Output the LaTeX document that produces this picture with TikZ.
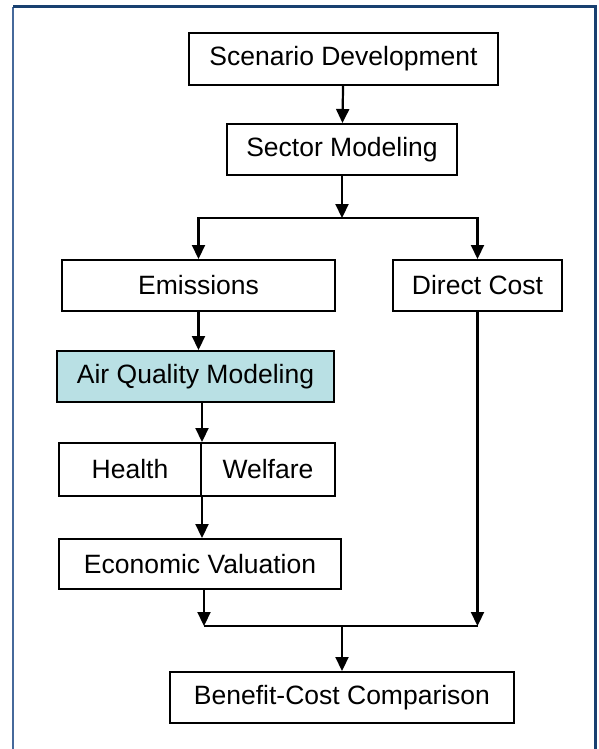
\documentclass[tikz,border=0pt]{standalone}
\usepackage{fontspec}
\setmainfont{Liberation Sans}
\usetikzlibrary{arrows.meta}

\definecolor{frameblue}{RGB}{24,64,112}
\definecolor{frameleft}{RGB}{70,105,155}
\definecolor{aqfill}{RGB}{185,224,228}

\begin{document}
\begin{tikzpicture}[x=1pt,y=-1pt,
	box/.style={draw,line width=2pt,fill=white,inner sep=0pt,
		font=\fontsize{26.5}{30}\selectfont},
	arr/.style={line width=2.2pt,-{Triangle[length=14pt,width=13pt]}},
	link/.style={line width=2.2pt}]
	\useasboundingbox (0,0) rectangle (598,749);
	% frame
	\draw[frameleft,line width=2pt] (13,749) -- (13,7);
	\draw[frameblue,line width=3pt] (13,7) -- (595,7) -- (595,749);
	
	% boxes
	\node[box,minimum width=309,minimum height=52] (scen) at (343.5,59) {Scenario Development};
	\node[box,minimum width=230,minimum height=51] (sect) at (342,149.5) {Sector Modeling};
	\node[box,minimum width=273,minimum height=51] (emis) at (198.5,285.5) {Emissions};
	\node[box,minimum width=169,minimum height=51] (cost) at (477.5,285.5) {Direct Cost};
	\node[box,fill=aqfill,minimum width=277,minimum height=51] (aqm) at (195.5,376.5) {Air Quality Modeling};
	\node[box,minimum width=142,minimum height=53] (health) at (130,469.5) {Health};
	\node[box,minimum width=134,minimum height=53] (welf) at (268,469.5) {Welfare};
	\node[box,minimum width=282,minimum height=50] (econ) at (200,564) {Economic Valuation};
	\node[box,minimum width=344,minimum height=51] (bcc) at (342,697.5) {Benefit-Cost Comparison};
	
	\coordinate (split) at (342,218);
	\coordinate (join) at (342,626);
	
	% arrows
	\draw[arr] (scen) -- (sect);
	\draw[arr] (sect) -- (split);
	\draw[arr] (split) -| (emis.north);
	\draw[arr] (split) -| (cost.north);
	\draw[arr] (emis.south) -- (emis.south |- aqm.north);
	\draw[arr] (aqm.south -| health.east) -- (health.north east);
	\draw[arr] (health.south east) -- (health.south east |- econ.north);
	\draw[arr] ([xshift=4pt]econ.south) -- ([xshift=4pt]econ.south |- join);
	\draw[link] ([xshift=4pt]econ.south |- join) -- (cost.south |- join);
	\draw[arr] (cost.south) -- (cost.south |- join);
	\draw[arr] (join) -- (bcc.north);
\end{tikzpicture}
\end{document}
